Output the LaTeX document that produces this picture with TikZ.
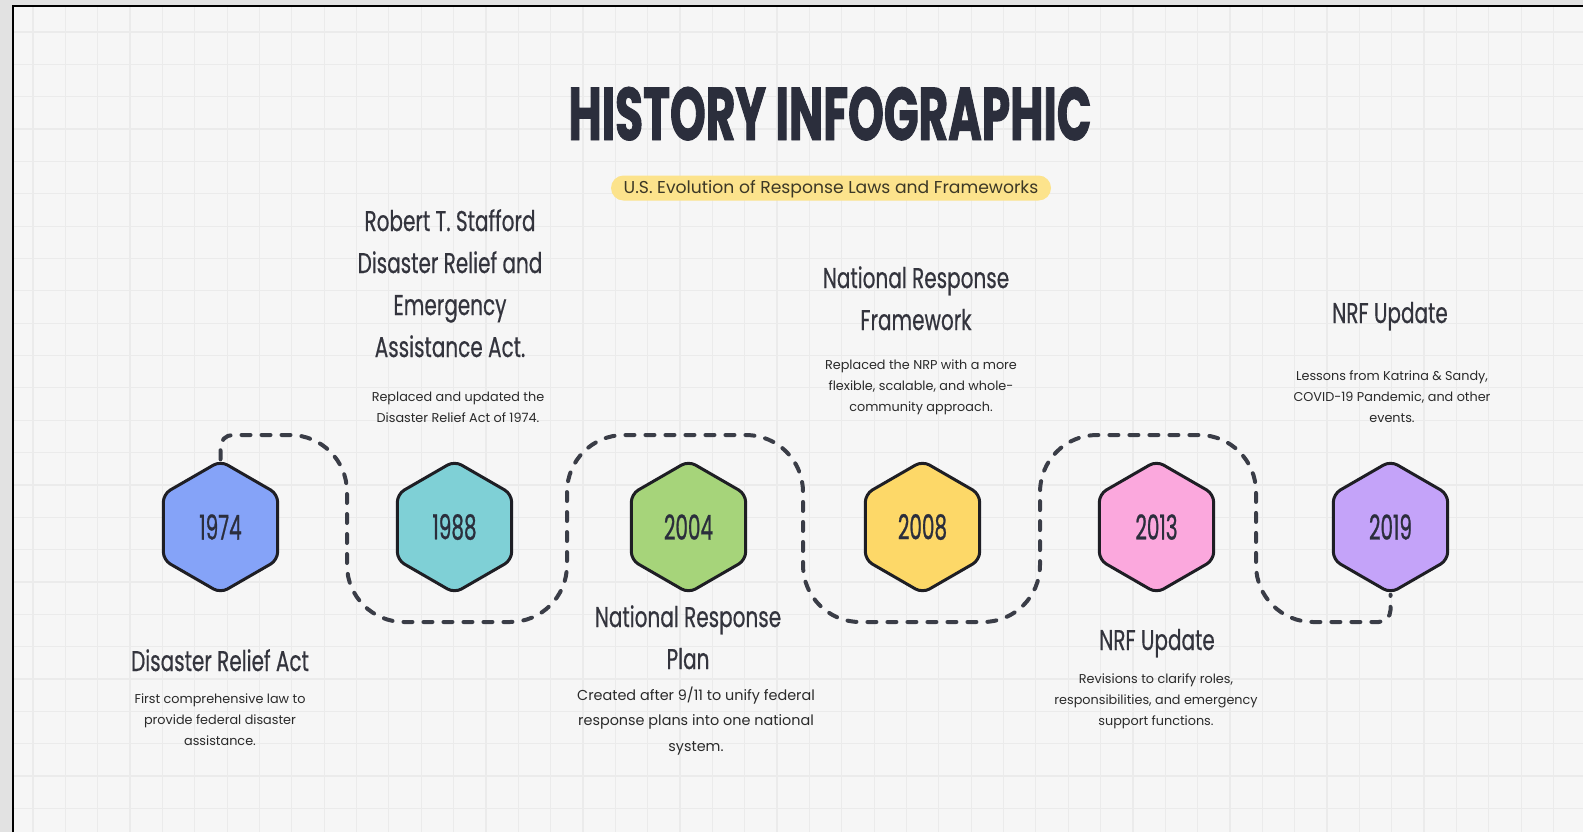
\documentclass[tikz,border=0pt]{standalone}
\usepackage{fontspec}
\usetikzlibrary{shapes.geometric}
\setmainfont{Poppins}
\newfontfamily\headfont[FakeStretch=0.70,FakeBold=0.5]{Poppins}
\newfontfamily\yearfont[FakeStretch=0.58,FakeBold=0.7]{Poppins}
\newfontfamily\titlefont[FakeStretch=0.61,FakeBold=1.2]{Poppins}

\definecolor{paper}{HTML}{F6F6F6}
\definecolor{outside}{HTML}{E2E2E2}
\definecolor{gridc}{HTML}{EBEBEB}
\definecolor{ink}{HTML}{2B2E3C}
\definecolor{headink}{HTML}{33343D}
\definecolor{bodyink}{HTML}{2A2A2A}
\definecolor{trailc}{HTML}{3A3D47}
\definecolor{pill}{HTML}{FCE38C}
\definecolor{pillink}{HTML}{3C3826}
\definecolor{hexline}{HTML}{1E1E24}
\definecolor{cblue}{HTML}{85A3F8}
\definecolor{cteal}{HTML}{7FD0D6}
\definecolor{cgreen}{HTML}{A6D47A}
\definecolor{cyellow}{HTML}{FDD868}
\definecolor{cpink}{HTML}{FBA8DD}
\definecolor{cviolet}{HTML}{C4A3F9}

\begin{document}
\begin{tikzpicture}[x=0.5pt,y=-0.5pt,
  gridline/.style={draw=gridc,line width=0.6pt},
  hexnode/.style={regular polygon,regular polygon sides=6,shape border rotate=30,
    minimum size=66pt,inner sep=0pt,draw=hexline,line width=1.5pt,rounded corners=4pt,
    text=ink,font=\yearfont\fontsize{17.2}{17.2}\selectfont},
  trail/.style={draw=trailc,line width=2pt,line cap=round,dash pattern=on 4.5pt off 5.5pt},
  heading/.style={align=center,anchor=base,text=headink,inner sep=0pt,
    font=\headfont\fontsize{14.3}{21}\selectfont},
  body/.style={align=center,anchor=base,text=bodyink,inner sep=0pt,
    font=\fontsize{6.4}{10.5}\selectfont},
  bodylarge/.style={body,font=\fontsize{7.2}{12.75}\selectfont}]

\useasboundingbox (0,0) rectangle (1583,832);

% page backdrop, paper and its grid
\fill[outside] (0,0) rectangle (1583,832);
\fill[paper] (13,6) rectangle (1583,832);
\foreach \i in {0,...,47} \draw[gridline] ({33+32.35*\i},7) -- ({33+32.35*\i},832);
\foreach \j in {0,...,24} \draw[gridline] (14,{32+32.35*\j}) -- (1583,{32+32.35*\j});
\draw[line width=1.25pt,black] (13,832) -- (13,6) -- (1583,6);

% title and subtitle
\node[anchor=base,text=ink,inner sep=0pt,font=\titlefont\bfseries\fontsize{37.3}{37.3}\selectfont]
  (title) at (830,140) {HISTORY INFOGRAPHIC};
\node[fill=pill,rounded corners=6.25pt,minimum width=220pt,minimum height=12.5pt,inner sep=0pt]
  (subpill) at (831,188) {};
\node[anchor=base,text=pillink,inner sep=0pt,font=\fontsize{8.6}{8.6}\selectfont]
  (subtitle) at (831,193) {U.S. Evolution of Response Laws and Frameworks};

% year hexagons
\node[hexnode,fill=cblue]   (h1) at (220.5,527) {1974};
\node[hexnode,fill=cteal]   (h2) at (454.5,527) {1988};
\node[hexnode,fill=cgreen]  (h3) at (688.5,527) {2004};
\node[hexnode,fill=cyellow] (h4) at (922.5,527) {2008};
\node[hexnode,fill=cpink]   (h5) at (1156.5,527) {2013};
\node[hexnode,fill=cviolet] (h6) at (1390.5,527) {2019};

% dashed serpentine trail linking the years
\draw[trail] (h1.north) -- (220.5,447) arc[start angle=180,end angle=270,radius=12]
  -- (290,435) arc[start angle=270,end angle=360,radius=57]
  -- (347,565) arc[start angle=180,end angle=90,radius=57]
  -- (510,622) arc[start angle=90,end angle=0,radius=57]
  -- (567,492) arc[start angle=180,end angle=270,radius=57]
  -- (746,435) arc[start angle=270,end angle=360,radius=57]
  -- (803,565) arc[start angle=180,end angle=90,radius=57]
  -- (983,622) arc[start angle=90,end angle=0,radius=57]
  -- (1040,492) arc[start angle=180,end angle=270,radius=57]
  -- (1199,435) arc[start angle=270,end angle=360,radius=57]
  -- (1256,565) arc[start angle=180,end angle=90,radius=57]
  -- (1378.5,622) arc[start angle=90,end angle=0,radius=12]
  -- (h6.south);

% captions: each block is anchored at the baseline of its last line
% 1974
\node[heading] (t1) at (220,671) {Disaster Relief Act};
\node[body] (d1) at (220,745) {First comprehensive law to\\provide federal disaster\\assistance.};
% 1988
\node[heading] (t2) at (450,357) {Robert T. Stafford\\Disaster Relief and\\Emergency\\Assistance Act.};
\node[body] (d2) at (458,422) {Replaced and updated the\\Disaster Relief Act of 1974.};
% 2004
\node[heading] (t3) at (688,669) {National Response\\Plan};
\node[bodylarge] (d3) at (696,751) {Created after 9/11 to unify federal\\response plans into one national\\system.};
% 2008
\node[heading] (t4) at (916,330) {National Response\\Framework};
\node[body] (d4) at (921,411) {Replaced the NRP with a more\\flexible, scalable, and whole-\\community approach.};
% 2013
\node[heading] (t5) at (1157,650) {NRF Update};
\node[body] (d5) at (1156,725) {Revisions to clarify roles,\\responsibilities, and emergency\\support functions.};
% 2019
\node[heading] (t6) at (1390,323) {NRF Update};
\node[body] (d6) at (1392,422) {Lessons from Katrina \& Sandy,\\COVID-19 Pandemic, and other\\events.};
\end{tikzpicture}
\end{document}
